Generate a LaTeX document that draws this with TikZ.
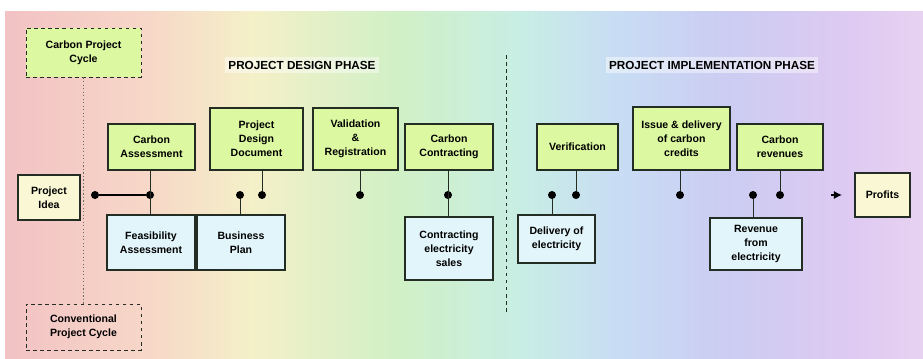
\documentclass[tikz,border=0pt]{standalone}
\usepackage{fontspec}
\setmainfont{Liberation Sans}
\usetikzlibrary{arrows.meta, positioning, calc}
\tikzset{>=latex}
\definecolor{boxgreen}{RGB}{220,248,160}
\definecolor{boxblue}{RGB}{226,245,250}
\definecolor{boxcream}{RGB}{250,248,212}
\definecolor{boxline}{RGB}{35,45,35}
\definecolor{bgA}{RGB}{242,194,196}
\definecolor{bgB}{RGB}{247,216,200}
\definecolor{bgC}{RGB}{244,240,200}
\definecolor{bgD}{RGB}{208,240,198}
\definecolor{bgE}{RGB}{200,238,228}
\definecolor{bgF}{RGB}{200,220,244}
\definecolor{bgG}{RGB}{204,204,242}
\definecolor{bgH}{RGB}{222,202,242}
\definecolor{bgI}{RGB}{232,210,242}
\pgfdeclarehorizontalshading{rainbowbg}{100bp}{color(0bp)=(bgA); color(25bp)=(bgA); color(33bp)=(bgB); color(38.5bp)=(bgC); color(46.5bp)=(bgD); color(53bp)=(bgE); color(58.5bp)=(bgF); color(64.5bp)=(bgG); color(71bp)=(bgH); color(75bp)=(bgI); color(100bp)=(bgI)}
\newcommand{\boxfont}{\fontsize{9}{12}\selectfont\bfseries}
\tikzset{
  greenbox/.style={rectangle, draw=boxline, line width=1.2pt, fill=boxgreen, align=center, font=\boxfont, inner sep=2pt},
  bluebox/.style={greenbox, fill=boxblue},
  cyclebox/.style={rectangle, draw=boxline, dashed, thick, align=center, font=\boxfont},
  phase/.style={fill=white, fill opacity=0.45, text opacity=1, font=\fontsize{10}{12}\selectfont\bfseries, inner sep=3pt},
  dot/.style={circle, fill=black, minimum size=2.4mm, inner sep=0pt}
}

\begin{document}
\begin{tikzpicture}[x=0.3mm, y=-0.3mm, thick]
  \useasboundingbox (0,0) rectangle (923,358);
  % Background
  \shade[shading=rainbowbg] (5,11) rectangle (923,358);

  % Project cycles
  \node[cyclebox, fill=boxgreen, minimum width=34.5mm, minimum height=14.7mm] (cpc) at (83.5,52.5) {Carbon Project\\Cycle};
  \node[cyclebox, minimum width=34.5mm, minimum height=13.8mm] (conv) at (83.5,327) {Conventional\\Project Cycle};
  \draw[dotted, line width=1pt, boxline!70] (cpc) -- (conv);

  % Phase titles and divider
  \node[phase] (design) at (302,65) {PROJECT DESIGN PHASE};
  \node[phase] (impl) at (712,65) {PROJECT IMPLEMENTATION PHASE};
  \coordinate (div1) at (506,55);
  \coordinate (div2) at (506,312);
  \draw[dashed, boxline] (div1) -- (div2);

  % Nodes (absolute)
  \node[greenbox, fill=boxcream, minimum width=18.6mm, minimum height=13.5mm] (idea) at (49,197.5) {Project\\Idea};
  \node[greenbox, minimum width=26.1mm, minimum height=13.8mm] (casmt) at (151.5,147) {Carbon\\Assessment};
  \node[greenbox, minimum width=27.9mm, minimum height=18.6mm] (pdd) at (256.5,139) {Project\\Design\\Document};
  \node[greenbox, minimum width=25.5mm, minimum height=18.6mm] (valid) at (355.5,139) {Validation\\\&\\Registration};
  \node[greenbox, minimum width=26.4mm, minimum height=13.8mm] (ccontr) at (449,147) {Carbon\\Contracting};
  \node[bluebox, minimum width=26.4mm, minimum height=16.5mm] (feas) at (151,242.5) {Feasibility\\Assessment};
  \node[bluebox, minimum width=26.4mm, minimum height=16.5mm] (bplan) at (241,242.5) {Business\\Plan};
  \node[bluebox, minimum width=26.4mm, minimum height=18.9mm] (csales) at (449,248.5) {Contracting\\electricity\\sales};
  \node[greenbox, minimum width=24.3mm, minimum height=13.8mm] (verif) at (577.5,147) {Verification};
  \node[greenbox, minimum width=29.1mm, minimum height=18.9mm] (issue) at (681.5,138.5) {Issue \& delivery\\of carbon\\credits};
  \node[greenbox, minimum width=25.8mm, minimum height=13.8mm] (crev) at (780,147) {Carbon\\revenues};
  \node[bluebox, minimum width=23.1mm, minimum height=14.4mm] (deliv) at (556.5,239) {Delivery of\\electricity};
  \node[bluebox, minimum width=27.6mm, minimum height=15.6mm] (rev) at (756,244) {Revenue\\from\\electricity};
  \node[greenbox, fill=boxcream, line width=2pt, minimum width=16.5mm, minimum height=13.2mm] (profits) at (882.5,195) {Profits};

  % Timeline dots
  \foreach \name/\x in {d0/95, d1/150, d2/240, d3/262, d4/360, d5/448, d6/552, d7/576, d8/680, d9/753, d10/780}
    \node[dot] (\name) at (\x,195) {};

  % Connectors
  \draw[line width=1.4pt] (d0) -- (d1);
  \draw[boxline] (casmt.south -| d1) -- (feas.north -| d1);
  \draw[boxline] (d2) -- (bplan.north -| d2);
  \draw[boxline] (d3) -- (pdd.south -| d3);
  \draw[boxline] (d4) -- (valid.south -| d4);
  \draw[boxline] (ccontr.south -| d5) -- (csales.north -| d5);
  \draw[boxline] (d6) -- (deliv.north -| d6);
  \draw[boxline] (d7) -- (verif.south -| d7);
  \draw[boxline] (d8) -- (issue.south -| d8);
  \draw[boxline] (d9) -- (rev.north -| d9);
  \draw[boxline] (d10) -- (crev.south -| d10);
  \coordinate (a0) at (831,195);
  \coordinate (a1) at (842,195);
  \draw[-{Latex[length=7pt,width=7pt]}, line width=1pt] (a0) -- (a1);
\end{tikzpicture}
\end{document}
